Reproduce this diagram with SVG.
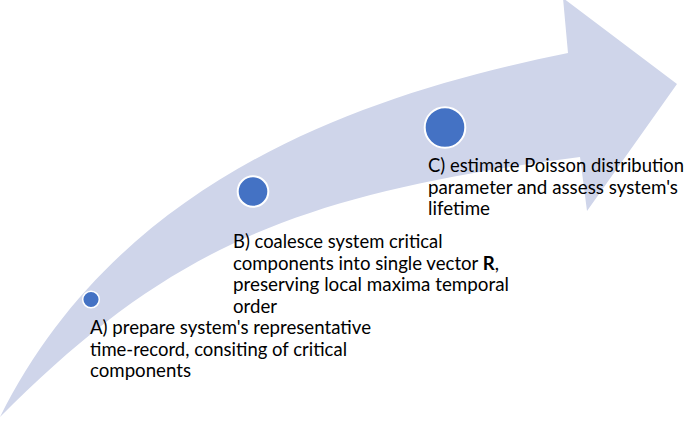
<svg xmlns="http://www.w3.org/2000/svg" width="685" height="421" viewBox="0 0 685 421">
<style>
.arrow{fill:#CFD5EA;stroke:none}
.dot{fill:#4472C4;stroke:#FFFFFF}
.lbl{font-family:Lato,"Open Sans","Liberation Sans",sans-serif;font-size:18.5px;fill:#000000}
.b{font-weight:bold}
</style>
<rect width="685" height="421" fill="#FFFFFF"/>
<g id="connectors">
<path class="arrow" d="M0,417 C115,186 348,97 568,53 L563,-2 L677,84 L587,211 L580,157 C300,193 170,246 0,417 Z"/>
</g>
<g id="node-A">
<circle class="dot" cx="91" cy="299.5" r="8.3" stroke-width="1.5"/>
<text class="lbl" x="90" y="334" textLength="281" lengthAdjust="spacingAndGlyphs">A) prepare system's representative</text>
<text class="lbl" x="90" y="355.5" textLength="257" lengthAdjust="spacingAndGlyphs">time-record, consiting of critical</text>
<text class="lbl" x="90" y="377" textLength="101" lengthAdjust="spacingAndGlyphs">components</text>
</g>
<g id="node-B">
<circle class="dot" cx="253" cy="191.5" r="15.3" stroke-width="2"/>
<text class="lbl" x="233" y="248" textLength="209.5" lengthAdjust="spacingAndGlyphs">B) coalesce system critical</text>
<text class="lbl" x="233" y="269.7" textLength="266" lengthAdjust="spacingAndGlyphs">components into single vector <tspan class="b">R</tspan>,</text>
<text class="lbl" x="233" y="291.4" textLength="276" lengthAdjust="spacingAndGlyphs">preserving local maxima temporal</text>
<text class="lbl" x="233" y="313" textLength="44" lengthAdjust="spacingAndGlyphs">order</text>
</g>
<g id="node-C">
<circle class="dot" cx="445" cy="127.5" r="20.3" stroke-width="2"/>
<text class="lbl" x="428" y="172" textLength="256" lengthAdjust="spacingAndGlyphs">C) estimate Poisson distribution</text>
<text class="lbl" x="428" y="193.5" textLength="250" lengthAdjust="spacingAndGlyphs">parameter and assess system's</text>
<text class="lbl" x="428" y="215" textLength="62" lengthAdjust="spacingAndGlyphs">lifetime</text>
</g>
</svg>
